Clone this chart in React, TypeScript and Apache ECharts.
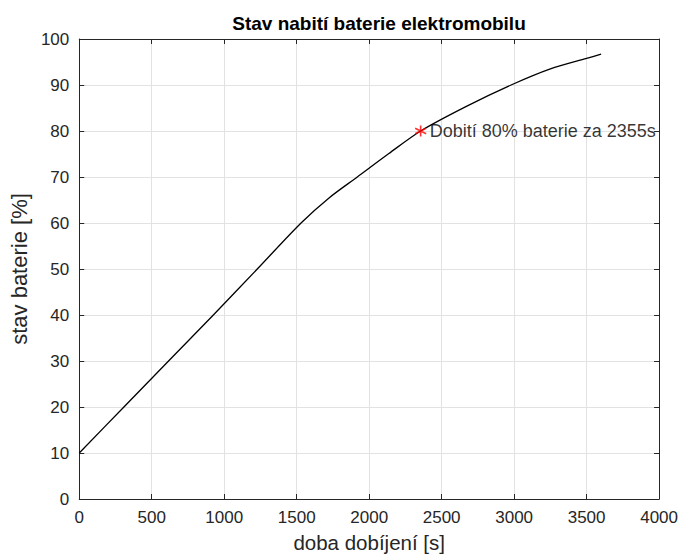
import React, { useEffect, useRef } from "react";
import * as echarts from "echarts";

const timeS = [0, 308, 616, 925, 1228, 1530, 1721, 1918, 2136, 2355, 2667, 2979, 3250, 3500, 3600];
const charge = [10, 20, 30, 40, 50, 60, 65.4, 70, 75.1, 80, 85.3, 90, 93.5, 95.8, 96.7];
const markX = 2355;
const markY = 80;
const markLabel = "Dobití 80% baterie za 2355s";
const titleText = "Stav nabití baterie elektromobilu";
const xName = "doba dobíjení [s]";
const yName = "stav baterie [%]";

const FONT = "Liberation Sans, Arial, Helvetica, sans-serif";
const AX = "#262626";

export default function App() {
  const ref = useRef<HTMLDivElement>(null);
  useEffect(() => {
    if (!ref.current) return;
    const chart = echarts.init(ref.current, null, { renderer: "svg" });
    const tickStyle = { inside: true, length: 5, lineStyle: { color: AX, width: 1 } };
    chart.setOption({
      animation: false,
      backgroundColor: "#ffffff",
      title: {
        text: titleText,
        left: 374,
        textAlign: "center",
        top: 9,
        textStyle: { fontFamily: FONT, fontSize: 19, fontWeight: "bold", color: "#000" },
      },
      grid: { left: 77, right: 21, top: 39, bottom: 56, containLabel: false },
      xAxis: [
        {
          type: "value",
          min: 0,
          max: 4000,
          interval: 500,
          name: xName,
          nameLocation: "middle",
          nameGap: 33,
          nameTextStyle: { fontFamily: FONT, fontSize: 20.5, color: AX },
          axisLine: { show: true, onZero: false, lineStyle: { color: AX, width: 1 } },
          axisTick: tickStyle,
          axisLabel: { fontFamily: FONT, fontSize: 17, color: AX, margin: 10, formatter: (v: number) => String(v) },
          splitLine: { show: true, lineStyle: { color: "#e2e2e2", width: 1 } },
        },
        {
          type: "value",
          position: "top",
          min: 0,
          max: 4000,
          interval: 500,
          axisLine: { show: true, onZero: false, lineStyle: { color: AX, width: 1 } },
          axisTick: tickStyle,
          axisLabel: { show: false },
          splitLine: { show: false },
        },
      ],
      yAxis: [
        {
          type: "value",
          min: 0,
          max: 100,
          interval: 10,
          name: yName,
          nameLocation: "middle",
          nameGap: 44,
          nameTextStyle: { fontFamily: FONT, fontSize: 22, color: AX },
          axisLine: { show: true, onZero: false, lineStyle: { color: AX, width: 1 } },
          axisTick: tickStyle,
          axisLabel: { fontFamily: FONT, fontSize: 17, color: AX, margin: 10 },
          splitLine: { show: true, lineStyle: { color: "#e2e2e2", width: 1 } },
        },
        {
          type: "value",
          position: "right",
          min: 0,
          max: 100,
          interval: 10,
          axisLine: { show: true, onZero: false, lineStyle: { color: AX, width: 1 } },
          axisTick: tickStyle,
          axisLabel: { show: false },
          splitLine: { show: false },
        },
      ],
      series: [
        {
          type: "line",
          data: timeS.map((t, i) => [t, charge[i]]),
          showSymbol: false,
          smooth: 0.3,
          lineStyle: { color: "#000", width: 1.3 },
          xAxisIndex: 0,
          yAxisIndex: 0,
          z: 3,
        },
        {
          type: "scatter",
          data: [[markX, markY]],
          symbol: "path://M0,-5L0,5M-4.33,-2.5L4.33,2.5M-4.33,2.5L4.33,-2.5",
          symbolSize: 11,
          itemStyle: { color: "none", borderColor: "#ff0000", borderWidth: 1.6 },
          label: {
            show: true,
            position: "right",
            distance: 1,
            formatter: markLabel,
            fontFamily: FONT,
            fontSize: 18,
            color: "#000",
          },
          xAxisIndex: 0,
          yAxisIndex: 0,
          z: 5,
        },
      ],
    });
    return () => chart.dispose();
  }, []);
  return (
    <div
      ref={ref}
      style={{ position: "absolute", left: 0, top: 0, width: 681, height: 558 }}
    />
  );
}
